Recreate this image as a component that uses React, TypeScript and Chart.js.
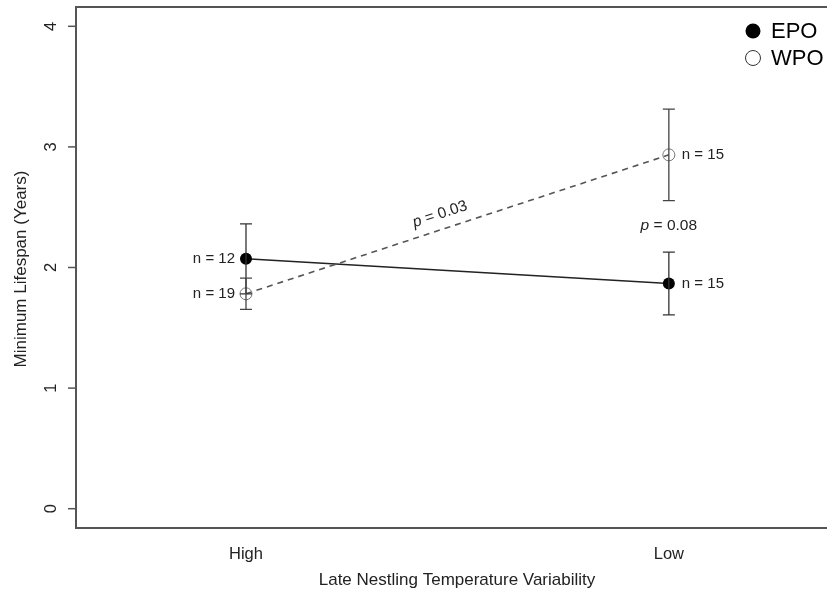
import React, { useEffect, useRef } from "react";
import { Chart, registerables } from "chart.js";

Chart.register(...registerables);

const categories = ["High", "Low"];
const xPositions = [1, 2];
const epoMean = [2.072, 1.867];
const epoSE = [0.29, 0.26];
const wpoMean = [1.782, 2.934];
const wpoSE = [0.13, 0.38];
const epoN = [12, 15];
const wpoN = [19, 15];
const yTicks = [0, 1, 2, 3, 4];
const interactionP = "0.03";
const lowP = "0.08";
const seriesNames = ["EPO", "WPO"];

const FONT = "'Liberation Sans', Arial, Helvetica, sans-serif";
const AXIS_COLOR = "#555";
const TEXT_COLOR = "#222";

const annotate = {
  id: "annotate",
  beforeDraw(chart: any) {
    const { ctx, chartArea } = chart;
    const y = chart.scales.y;
    ctx.save();
    ctx.strokeStyle = AXIS_COLOR;
    ctx.lineWidth = 2;
    ctx.beginPath();
    ctx.moveTo(chart.width + 5, chartArea.top);
    ctx.lineTo(chartArea.left, chartArea.top);
    ctx.lineTo(chartArea.left, chartArea.bottom);
    ctx.lineTo(chart.width + 5, chartArea.bottom);
    ctx.stroke();
    // y ticks
    ctx.lineWidth = 1.5;
    ctx.fillStyle = TEXT_COLOR;
    ctx.font = `16.5px ${FONT}`;
    ctx.textAlign = "center";
    ctx.textBaseline = "middle";
    yTicks.forEach((t) => {
      const py = y.getPixelForValue(t);
      ctx.beginPath();
      ctx.moveTo(chartArea.left - 8, py);
      ctx.lineTo(chartArea.left, py);
      ctx.stroke();
      ctx.save();
      ctx.translate(51, py);
      ctx.rotate(-Math.PI / 2);
      ctx.fillText(String(t), 0, 0);
      ctx.restore();
    });
    // x labels
    const x = chart.scales.x;
    categories.forEach((c, i) => {
      ctx.fillText(c, x.getPixelForValue(xPositions[i]), 554);
    });
    ctx.font = `17px ${FONT}`;
    ctx.fillText("Late Nestling Temperature Variability", 457, 580);
    ctx.save();
    ctx.translate(21, 269);
    ctx.rotate(-Math.PI / 2);
    ctx.fillText("Minimum Lifespan (Years)", 0, 0);
    ctx.restore();
    ctx.restore();
  },
  afterDatasetsDraw(chart: any) {
    const { ctx } = chart;
    const x = chart.scales.x;
    const y = chart.scales.y;
    ctx.save();
    const bar = (xv: number, m: number, se: number, color: string) => {
      const px = x.getPixelForValue(xv);
      const top = y.getPixelForValue(m + se);
      const bot = y.getPixelForValue(m - se);
      ctx.strokeStyle = color;
      ctx.lineWidth = 1.3;
      ctx.beginPath();
      ctx.moveTo(px, top);
      ctx.lineTo(px, bot);
      ctx.moveTo(px - 6, top);
      ctx.lineTo(px + 6, top);
      ctx.moveTo(px - 6, bot);
      ctx.lineTo(px + 6, bot);
      ctx.stroke();
    };
    xPositions.forEach((xv, i) => {
      bar(xv, epoMean[i], epoSE[i], "#333");
      bar(xv, wpoMean[i], wpoSE[i], "#444");
    });
    // n labels
    ctx.fillStyle = TEXT_COLOR;
    ctx.font = `15px ${FONT}`;
    ctx.textBaseline = "middle";
    ctx.textAlign = "right";
    ctx.fillText(`n = ${epoN[0]}`, x.getPixelForValue(xPositions[0]) - 11, y.getPixelForValue(epoMean[0]));
    ctx.fillText(`n = ${wpoN[0]}`, x.getPixelForValue(xPositions[0]) - 11, y.getPixelForValue(wpoMean[0]));
    ctx.textAlign = "left";
    ctx.fillText(`n = ${epoN[1]}`, x.getPixelForValue(xPositions[1]) + 13, y.getPixelForValue(epoMean[1]));
    ctx.fillText(`n = ${wpoN[1]}`, x.getPixelForValue(xPositions[1]) + 13, y.getPixelForValue(wpoMean[1]));

    const drawP = (val: string, cx: number, cy: number, angle: number) => {
      ctx.save();
      ctx.translate(cx, cy);
      ctx.rotate(angle);
      ctx.font = `italic 15.5px ${FONT}`;
      const pw = ctx.measureText("p").width;
      ctx.font = `15.5px ${FONT}`;
      const rest = ` = ${val}`;
      const rw = ctx.measureText(rest).width;
      const total = pw + rw;
      ctx.textAlign = "left";
      ctx.font = `italic 15.5px ${FONT}`;
      ctx.fillText("p", -total / 2, 0);
      ctx.font = `15.5px ${FONT}`;
      ctx.fillText(rest, -total / 2 + pw, 0);
      ctx.restore();
    };
    // interaction p along WPO line
    const x0 = x.getPixelForValue(xPositions[0]);
    const y0 = y.getPixelForValue(wpoMean[0]);
    const x1 = x.getPixelForValue(xPositions[1]);
    const y1 = y.getPixelForValue(wpoMean[1]);
    const ang = Math.atan2(y1 - y0, x1 - x0);
    const t = 0.47;
    const mx = x0 + (x1 - x0) * t;
    const my = y0 + (y1 - y0) * t;
    drawP(interactionP, mx + Math.sin(ang) * 15, my - Math.cos(ang) * 15, ang);
    drawP(lowP, x1, y.getPixelForValue(2.35), 0);

    // legend
    ctx.font = `22px ${FONT}`;
    ctx.textAlign = "left";
    ctx.fillStyle = "#000";
    ctx.beginPath();
    ctx.arc(753, 31, 7.5, 0, Math.PI * 2);
    ctx.fill();
    ctx.fillText(seriesNames[0], 771, 32);
    ctx.strokeStyle = "#333";
    ctx.lineWidth = 1;
    ctx.beginPath();
    ctx.arc(753, 58, 7.5, 0, Math.PI * 2);
    ctx.stroke();
    ctx.fillText(seriesNames[1], 771, 59);
    ctx.restore();
  },
};

export default function App() {
  const ref = useRef<HTMLCanvasElement>(null);
  useEffect(() => {
    if (!ref.current) return;
    const chart = new Chart(ref.current, {
      type: "line",
      data: {
        datasets: [
          {
            label: seriesNames[1],
            data: xPositions.map((xv, i) => ({ x: xv, y: wpoMean[i] })),
            borderColor: "#555",
            borderWidth: 1.6,
            borderDash: [6, 5],
            pointRadius: 6,
            pointBorderWidth: 1,
            pointBorderColor: "#777",
            pointBackgroundColor: "rgba(255,255,255,0)",
          },
          {
            label: seriesNames[0],
            data: xPositions.map((xv, i) => ({ x: xv, y: epoMean[i] })),
            borderColor: "#222",
            borderWidth: 1.6,
            pointRadius: 6,
            pointBorderWidth: 0,
            pointBackgroundColor: "#000",
          },
        ],
      },
      options: {
        responsive: false,
        animation: false,
        layout: { autoPadding: false, padding: { left: 76, top: 7, right: 0, bottom: 65 } },
        plugins: { legend: { display: false }, tooltip: { enabled: false } },
        scales: {
          x: { type: "linear", min: 0.598, max: 2.374, display: false },
          y: { type: "linear", min: -0.16, max: 4.16, display: false },
        },
      },
      plugins: [annotate],
    });
    return () => chart.destroy();
  }, []);
  return (
    <div style={{ position: "fixed", left: 0, top: 0, width: 827, height: 593, background: "#fff" }}>
      <canvas ref={ref} width={827} height={593} />
    </div>
  );
}
